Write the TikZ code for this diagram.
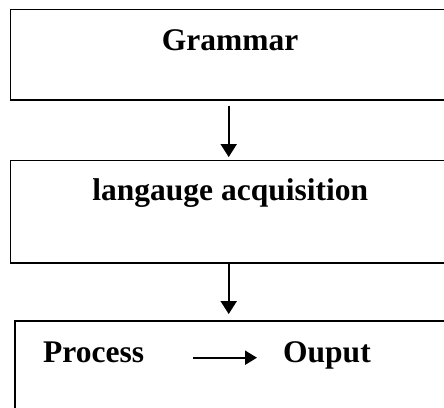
\documentclass[tikz,border=0pt]{standalone}
\usepackage{fontspec}
\setmainfont{Liberation Serif}
\usetikzlibrary{arrows.meta}
\tikzset{
  box/.style={draw=black, line width=1.9pt, rectangle, inner sep=0pt, minimum width=439.5pt},
  lbl/.style={inner sep=0pt, font=\bfseries\fontsize{31.5}{36}\selectfont},
  arr/.style={line width=2pt, -{Triangle[width=16pt,length=13pt]}},
  sarr/.style={line width=2pt, -{Triangle[width=14pt,length=12pt]}}
}
\begin{document}
\begin{tikzpicture}[x=1pt,y=-1pt]
\useasboundingbox (0,0) rectangle (444,407);
\clip (0,0) rectangle (444,407);
% boxes (right edges and bottom of last box lie outside the picture)
\node[box, minimum height=90.5pt] (b1) at (230.25,54.75) {};
\node[box, minimum height=102.5pt] (b2) at (230.25,211.75) {};
\node[box, minimum width=435pt, minimum height=110pt] (b3) at (232.5,376) {};
% texts
\node[lbl, anchor=base] (t1) at (230,50) {Grammar};
\node[lbl, anchor=base] (t2) at (230.3,200) {langauge acquisition};
\node[lbl, anchor=base west] (p) at (43,362) {Process};
\node[lbl, anchor=base west] (o) at (283,362) {Ouput};
% connectors
\coordinate (c1) at (228.7,0);
\draw[arr, shorten <=5pt, shorten >=2.5pt] (b1.south -| c1) -- (b2.north -| c1);
\draw[arr, shorten >=6pt] (b2.south -| c1) -- (b3.north -| c1);
\coordinate (pa) at (193,357.7);
\coordinate (pb) at (257,357.7);
\draw[sarr] (pa) -- (pb);
\end{tikzpicture}
\end{document}
